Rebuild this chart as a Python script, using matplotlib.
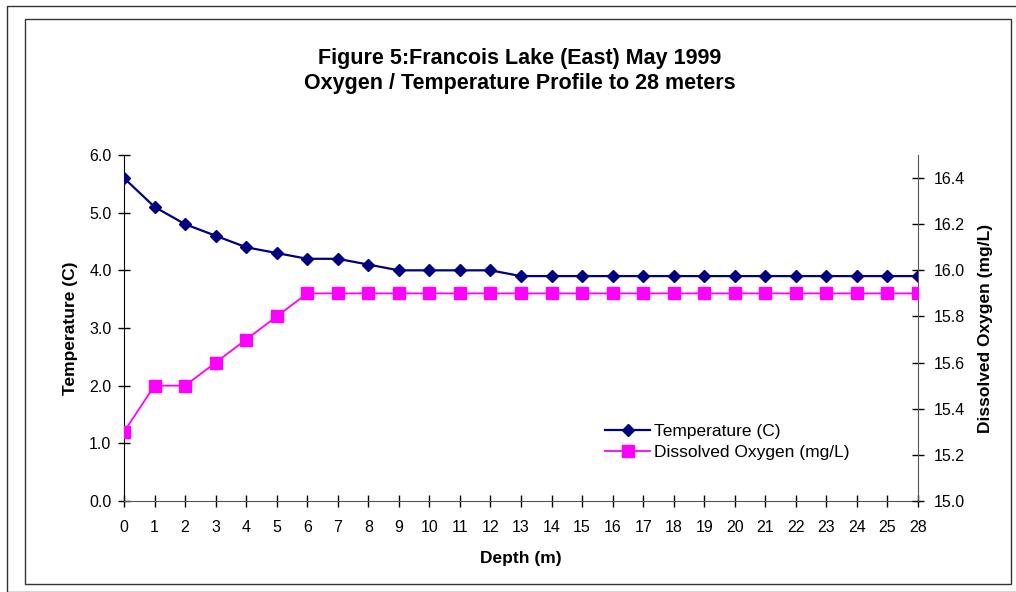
import matplotlib
matplotlib.use("Agg")
import matplotlib.pyplot as plt
from matplotlib.patches import Rectangle

plt.rcParams['font.family'] = ['Liberation Sans', 'DejaVu Sans']

depth_labels = ['0', '1', '2', '3', '4', '5', '6', '7', '8', '9', '10', '11', '12', '13',
                '14', '15', '16', '17', '18', '19', '20', '21', '22', '23', '24', '25', '28']
temperature = [5.6, 5.1, 4.8, 4.6, 4.4, 4.3, 4.2, 4.2, 4.1, 4.0, 4.0, 4.0, 4.0, 3.9,
               3.9, 3.9, 3.9, 3.9, 3.9, 3.9, 3.9, 3.9, 3.9, 3.9, 3.9, 3.9, 3.9]
oxygen = [15.3, 15.5, 15.5, 15.6, 15.7, 15.8, 15.9, 15.9, 15.9, 15.9, 15.9, 15.9, 15.9, 15.9,
          15.9, 15.9, 15.9, 15.9, 15.9, 15.9, 15.9, 15.9, 15.9, 15.9, 15.9, 15.9, 15.9]
left_ticks = [0.0, 1.0, 2.0, 3.0, 4.0, 5.0, 6.0]
right_ticks = [15.0, 15.2, 15.4, 15.6, 15.8, 16.0, 16.2, 16.4]

W, H = 1016, 592
fig = plt.figure(figsize=(W / 100, H / 100), dpi=100)

# frames
fig.add_artist(Rectangle((7 / W, 0), 1.2, 1 - 6 / H, transform=fig.transFigure,
                         fill=False, edgecolor='#333333', linewidth=1.0))
fig.add_artist(Rectangle((25 / W, 1 - 584 / H), (1011 - 25) / W, (584 - 19) / H,
                         transform=fig.transFigure, fill=False, edgecolor='#333333', linewidth=1.0))

ax = fig.add_axes([124 / W, 1 - 501 / H, (918 - 124) / W, (501 - 155) / H])
ax2 = ax.twinx()

x = list(range(len(depth_labels)))
l1, = ax.plot(x, temperature, color='#000080', linewidth=1.6, marker='D', markersize=6.5,
              markerfacecolor='#000080', markeredgecolor='#000080', label='Temperature (C)', zorder=3)
l2, = ax2.plot(x, oxygen, color='#FF00FF', linewidth=1.3, marker='s', markersize=8.5,
               markerfacecolor='#FF00FF', markeredgecolor='#FF00FF', label='Dissolved Oxygen (mg/L)', zorder=3)

ax.set_xlim(0, len(depth_labels) - 1)
ax.set_ylim(0, 6)
ax2.set_ylim(15.0, 16.5)

ax.set_xticks(x)
ax.set_xticklabels(depth_labels)
ax.set_yticks(left_ticks)
ax.set_yticklabels([f'{v:.1f}' for v in left_ticks])
ax2.set_yticks(right_ticks)
ax2.set_yticklabels([f'{v:.1f}' for v in right_ticks])

tick_fs = 11.5
ax.tick_params(axis='x', direction='inout', length=8, width=1, colors='#000000',
               labelsize=tick_fs, pad=9.5)
ax.tick_params(axis='y', direction='inout', length=8, width=1, colors='#000000',
               labelsize=tick_fs, pad=5)
ax2.tick_params(axis='y', direction='inout', length=8, width=1, colors='#000000',
                labelsize=tick_fs, pad=7)

for a in (ax, ax2):
    a.spines['top'].set_visible(False)
ax.spines['right'].set_visible(False)
ax.spines['left'].set_color('#000000')
ax.spines['bottom'].set_color('#555555')
ax2.spines['left'].set_visible(False)
ax2.spines['bottom'].set_visible(False)
ax2.spines['right'].set_color('#555555')

lab_fs = 12.5
ax.set_xlabel('Depth (m)', fontsize=lab_fs, fontweight='bold', labelpad=12)
ax.set_ylabel('Temperature (C)', fontsize=lab_fs, fontweight='bold', labelpad=8)
ax2.set_ylabel('Dissolved Oxygen (mg/L)', fontsize=lab_fs, fontweight='bold', labelpad=10)

fig.text(520 / W, 1 - 71 / H, 'Figure 5:Francois Lake (East) May 1999\nOxygen / Temperature Profile to 28 meters',
         ha='center', va='center', fontsize=15.5, fontweight='bold', linespacing=1.25)

ax2.legend([l1, l2], ['Temperature (C)', 'Dissolved Oxygen (mg/L)'], loc='center left',
           bbox_to_anchor=((605 - 124) / 794, 1 - (442 - 155) / 346), frameon=False,
           fontsize=12.5, handlelength=2.6, handletextpad=0.2, labelspacing=0.3,
           borderpad=0, borderaxespad=0)

fig.savefig('out.png', dpi=100)
